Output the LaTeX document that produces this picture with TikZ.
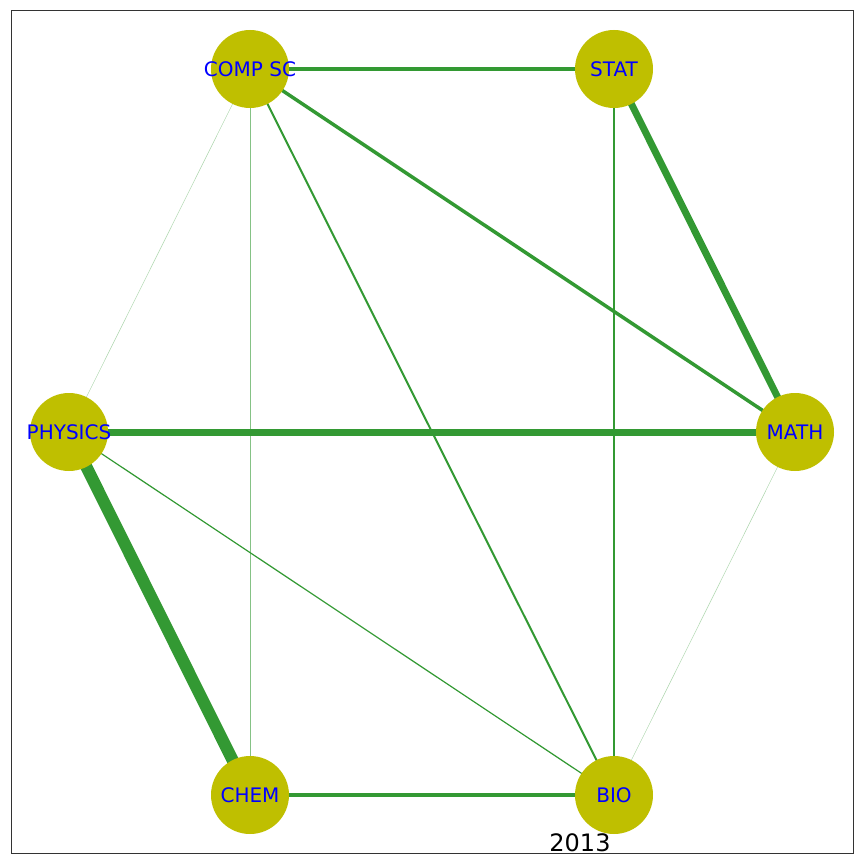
\documentclass[tikz,border=0pt]{standalone}
\usepackage{fontspec}
\setmainfont{DejaVu Sans}
\definecolor{nodecol}{HTML}{BFBF00}
\definecolor{edgecol}{HTML}{339933}
\definecolor{labcol}{HTML}{0000FF}
\definecolor{framecol}{HTML}{333333}
\begin{document}
\begin{tikzpicture}[x=1pt,y=-1pt,
  vert/.style={circle,fill=nodecol,minimum size=78pt,inner sep=0pt},
  vlab/.style={text=labcol,font=\fontsize{20pt}{22pt}\selectfont,inner sep=0pt},
  link/.style={draw=edgecol,line cap=butt},
  thinlink/.style={draw=edgecol,draw opacity=0.6},
  faintlink/.style={draw=edgecol,draw opacity=0.4}]
\useasboundingbox (0,0) rectangle (864,864);
\draw[framecol,line width=1pt] (11,11) rectangle (853,853);
\coordinate (cs) at (250,69);
\coordinate (st) at (614,69);
\coordinate (ma) at (795,432);
\coordinate (bi) at (614,795);
\coordinate (ch) at (250,795);
\coordinate (ph) at (69,432);
% edges
\draw[link,line width=3.5pt] (cs) -- (st);
\draw[link,line width=7pt] (st) -- (ma);
\draw[link,line width=3.5pt] (cs) -- (ma);
\draw[faintlink,line width=0.5pt] (cs) -- (ph);
\draw[thinlink,line width=1pt] (cs) -- (ch);
\draw[link,line width=2pt] (cs) -- (bi);
\draw[link,line width=1.6pt] (st) -- (bi);
\draw[link,line width=7pt] (ph) -- (ma);
\draw[link,line width=12pt] (ph) -- (ch);
\draw[link,line width=1.2pt] (ph) -- (bi);
\draw[link,line width=4pt] (ch) -- (bi);
\draw[faintlink,line width=0.5pt] (ma) -- (bi);
% nodes
\node[vert,label={[vlab]center:COMP SC}] (CS) at (cs) {};
\node[vert,label={[vlab]center:STAT}] (ST) at (st) {};
\node[vert,label={[vlab]center:MATH}] (MA) at (ma) {};
\node[vert,label={[vlab]center:BIO}] (BI) at (bi) {};
\node[vert,label={[vlab]center:CHEM}] (CH) at (ch) {};
\node[vert,label={[vlab]center:PHYSICS}] (PH) at (ph) {};
\node[font=\fontsize{24pt}{26pt}\selectfont,anchor=base] (yr) at (580,851) {2013};
\end{tikzpicture}
\end{document}
